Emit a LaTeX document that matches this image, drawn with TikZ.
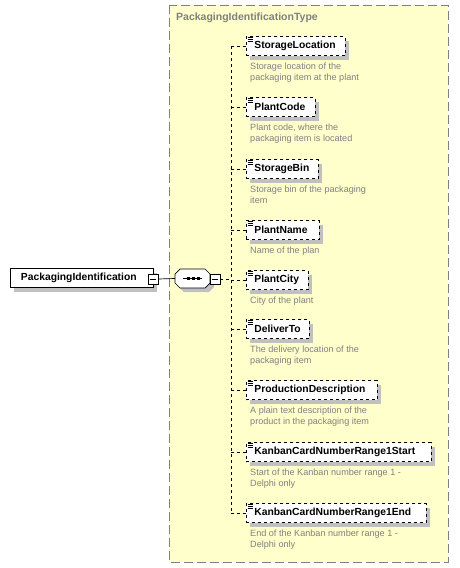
\documentclass[tikz,border=0pt]{standalone}
\usepackage{fontspec}
\setmainfont{Liberation Sans}
\usetikzlibrary{shadows}
\definecolor{paleyel}{RGB}{255,255,204}
\definecolor{descgray}{RGB}{128,128,128}
\definecolor{shadowgray}{RGB}{192,192,192}
\tikzset{
  elem/.style={draw=black, fill=white, dashed, line width=0.8pt, minimum height=19pt, inner xsep=4pt,
    text width=#1-8pt, align=left,
    font=\fontsize{10.3}{12}\selectfont\bfseries, anchor=west,
    general shadow={fill=shadowgray, shadow xshift=4pt, shadow yshift=-4pt}},
  mainelem/.style={draw=black, fill=white, line width=0.6pt, minimum height=19pt, minimum width=143pt,
    font=\fontsize{10.3}{12}\selectfont\bfseries, anchor=west,
    general shadow={fill=shadowgray, shadow xshift=4pt, shadow yshift=-4pt}},
  desc/.style={anchor=north west, align=left, text=descgray, font=\fontsize{9.1}{11}\selectfont, inner sep=0pt},
  conn/.style={dashed, line width=0.7pt},
  minusbox/.style={draw=black, fill=white, line width=0.6pt, minimum size=10pt, inner sep=0pt},
}
\newcommand{\listicon}[1]{%
  \draw[line width=0.6pt] ([xshift=1.5pt,yshift=-1.5pt]#1.north west) -- ++(5pt,0)
    ([xshift=1.5pt,yshift=-3.3pt]#1.north west) -- ++(5pt,0)
    ([xshift=1.5pt,yshift=-5.1pt]#1.north west) -- ++(5pt,0);}
\begin{document}
\begin{tikzpicture}[x=1pt,y=-1pt]
\useasboundingbox (0,0) rectangle (459,568);
% type container
\draw[fill=paleyel, draw=gray, line width=0.8pt, dash pattern=on 9pt off 4pt] (169,5) rectangle (448,562);
\node[anchor=west, text=descgray, font=\fontsize{10.5}{12}\selectfont\bfseries, inner sep=0pt] (title) at (176,18) {PackagingIdentificationType};

% main element
\node[mainelem] (main) at (10,278) {\hspace*{-6pt}PackagingIdentification};
\node[minusbox] (mminus) at (153,279) {};
\draw[line width=0.8pt] (mminus.west) ++(2pt,0) -- ++(6pt,0);

% sequence compositor
\fill[shadowgray] (179,278) -- (184,273) -- (209,273) -- (214,278) -- (214,287) -- (209,292) -- (184,292) -- (179,287) -- cycle;
\draw[fill=white, line width=0.7pt] (175,274) -- (180,269) -- (205,269) -- (210,274) -- (210,283) -- (205,288) -- (180,288) -- (175,283) -- cycle;
\coordinate (seq) at (175,278.5);
\draw[line width=0.8pt] (183,278.5) -- (202,278.5);
\foreach \dx in {188,193,198} \fill (\dx-1.5,277) rectangle (\dx+1.5,280);
\node[minusbox] (sminus) at (215,279) {};
\draw[line width=0.8pt] (sminus.west) ++(2pt,0) -- ++(6pt,0);
\draw[line width=0.7pt] (mminus.east) -- (seq);

% children
\coordinate (bus) at (231,279);
\node[elem=99pt] (c1) at (246,46) {\hspace*{4pt}StorageLocation};
\node[elem=69pt] (c2) at (246,107) {\hspace*{4pt}PlantCode};
\node[elem=72pt] (c3) at (246,169) {\hspace*{4pt}StorageBin};
\node[elem=73pt] (c4) at (246,230) {\hspace*{4pt}PlantName};
\node[elem=62pt] (c5) at (246,280) {\hspace*{4pt}PlantCity};
\node[elem=63pt] (c6) at (246,329) {\hspace*{4pt}DeliverTo};
\node[elem=131pt] (c7) at (246,390) {\hspace*{4pt}ProductionDescription};
\node[elem=185pt] (c8) at (246,452) {\hspace*{4pt}KanbanCardNumberRange1Start};
\node[elem=180pt] (c9) at (246,513) {\hspace*{4pt}KanbanCardNumberRange1End};
\foreach \c in {c1,c2,c3,c4,c5,c6,c7,c8,c9} {\listicon{\c}}

\draw[conn] (sminus.east) -- (bus);
\draw[conn] (231,46) -- (231,513);
\foreach \c in {c1,c2,c3,c4,c5,c6,c7,c8,c9} {\draw[conn] (\c.west -| bus) -- (\c.west);}

% descriptions
\node[desc] (d1) at (250,63) {Storage location of the\\packaging item at the plant};
\node[desc] (d2) at (250,124) {Plant code, where the\\packaging item is located};
\node[desc] (d3) at (250,186) {Storage bin of the packaging\\item};
\node[desc] (d4) at (250,247) {Name of the plan};
\node[desc] (d5) at (250,297) {City of the plant};
\node[desc] (d6) at (250,346) {The delivery location of the\\packaging item};
\node[desc] (d7) at (250,407) {A plain text description of the\\product in the packaging item};
\node[desc] (d8) at (250,469) {Start of the Kanban number range 1 -\\Delphi only};
\node[desc] (d9) at (250,530) {End of the Kanban number range 1 -\\Delphi only};
\end{tikzpicture}
\end{document}
